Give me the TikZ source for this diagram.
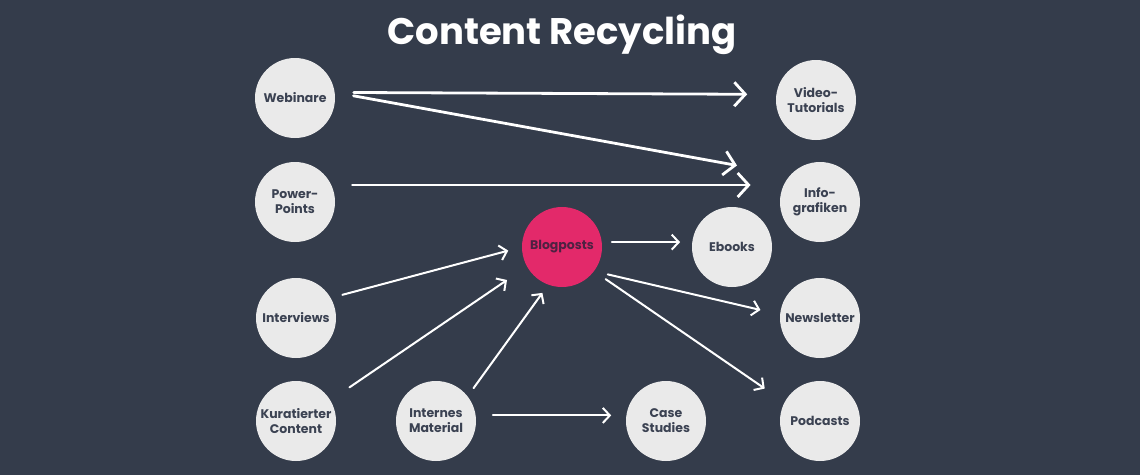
\documentclass[tikz,border=0pt]{standalone}
\usepackage{fontspec}
\setmainfont{Poppins}
\usetikzlibrary{arrows.meta}
\definecolor{bg}{HTML}{343C4B}
\definecolor{disc}{HTML}{EAEAEA}
\definecolor{ink}{HTML}{3B4252}
\definecolor{blog}{HTML}{E3296A}
\definecolor{blogink}{HTML}{4E2142}
\begin{document}
\begin{tikzpicture}[x=1pt,y=-1pt,
	topic/.style={circle,fill=disc,minimum size=80pt,inner sep=0pt,align=center,
		font=\fontsize{12.5}{15}\selectfont\bfseries,text=ink},
	hub/.style={topic,fill=blog,text=blogink},
	bigarr/.style={draw=white,line width=2.8pt,line cap=round,
		-{Straight Barb[length=11pt,width=24pt]}},
	arr/.style={draw=white,line width=2pt,line cap=round,
		-{Straight Barb[length=7pt,width=15pt]}}]
		\fill[bg] (0,0) rectangle (1140,475);
		\useasboundingbox (0,0) rectangle (1140,475);
		% title
		\node[text=white,font=\fontsize{37}{40}\selectfont\bfseries] (title) at (562,35) {Content Recycling};
		% sources
		\node[topic] (web) at (295,98) {Webinare};
		\node[topic] (ppt) at (295,202) {Power-\\Points};
		\node[topic] (intv) at (296,318) {Interviews};
		\node[topic] (kur) at (296,421) {Kuratierter\\Content};
		\node[topic] (intern) at (436,421) {Internes\\Material};
		% hub
		\node[hub] (blog) at (562,247) {Blogposts};
		% targets
		\node[topic] (ebook) at (732,247) {Ebooks};
		\node[topic] (cases) at (666,421) {Case\\Studies};
		\node[topic] (vid) at (816,100) {Video-\\Tutorials};
		\node[topic] (info) at (820,202) {Info-\\grafiken};
		\node[topic] (news) at (820,318) {Newsletter};
		\node[topic] (pod) at (820,421) {Podcasts};
		% long arrows
		\draw[bigarr,shorten <=19pt,shorten >=29pt] (web.8) -- (vid.172);
		\draw[bigarr,shorten <=19pt,shorten >=54pt] (web.8) -- (info.138);
		\draw[bigarr,shorten <=21pt,shorten >=33pt] (ppt.25) -- (info.155);
		% into the hub
		\draw[arr,shorten <=12pt,shorten >=14pt] (intv.30) -- (blog.180);
		\draw[arr,shorten <=23pt,shorten >=24pt] (kur.31) -- (blog.209);
		\draw[arr,shorten <=10pt,shorten >=10pt] (intern.38) -- (blog.250);
		\draw[arr,shorten <=17pt,shorten >=15pt] (intern.8) -- (cases.172);
		% out of the hub
		\draw[arr,shorten <=10pt,shorten >=12pt] (blog.7) -- (ebook.173);
		\draw[arr,shorten <=14pt,shorten >=20pt] (blog.-37) -- (news.175);
		\draw[arr,shorten <=14pt,shorten >=24pt] (blog.-37) -- (pod.152);
\end{tikzpicture}
\end{document}
